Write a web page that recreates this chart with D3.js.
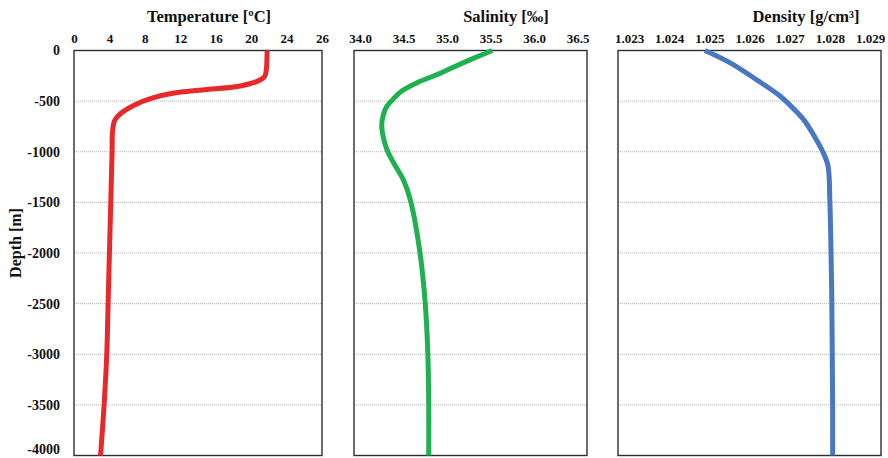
<!DOCTYPE html>
<html>
<head>
<meta charset="utf-8">
<script src="https://cdn.jsdelivr.net/npm/d3@7"></script>
<style>
  body { margin: 0; background: #fff; }
  text { font-family: "Liberation Serif", "Times New Roman", serif; font-weight: bold; fill: #111; }
</style>
</head>
<body>
<svg id="canvas"></svg>
<script>
// depth ticks shared by all three panels
const depthTicks = [0, -500, -1000, -1500, -2000, -2500, -3000, -3500, -4000];

// Temperature profile
const tempDepth  = [0, -200, -260, -300, -350, -385, -420, -470, -535, -620, -690, -800, -1000, -1500, -2000, -2500, -3000, -3500, -4000];
const tempValues = [21.8, 21.7, 21.5, 20.8, 18.8, 15.0, 11.3, 8.8, 6.9, 5.3, 4.6, 4.35, 4.3, 4.15, 4.0, 3.85, 3.7, 3.4, 3.0];
const tempTicks = [0, 4, 8, 12, 16, 20, 24, 28];
const tempTickLabels = ["0", "4", "8", "12", "16", "20", "24", "26"]; // last label reads 26 on the original

// Salinity profile
const salDepth  = [0, -75, -150, -240, -320, -400, -490, -550, -630, -750, -980, -1130, -1280, -1480, -2000, -2500, -3000, -3500, -4000];
const salValues = [35.52, 35.31, 35.11, 34.88, 34.65, 34.48, 34.37, 34.31, 34.27, 34.25, 34.31, 34.4, 34.5, 34.58, 34.69, 34.75, 34.78, 34.79, 34.79];
const salTicks = [34.0, 34.5, 35.0, 35.5, 36.0, 36.5];
const salTickLabels = ["34.0", "34.5", "35.0", "35.5", "36.0", "36.5"];

// Density profile
const denDepth  = [0, -120, -290, -450, -585, -700, -850, -980, -1130, -1480, -2000, -2500, -3000, -3500, -4000];
const denValues = [1.02489, 1.02551, 1.02618, 1.02676, 1.02712, 1.02738, 1.02762, 1.0278, 1.02795, 1.0280, 1.02803, 1.02805, 1.02806, 1.02807, 1.02807];
const denTicks = [1.023, 1.024, 1.025, 1.026, 1.027, 1.028, 1.029];
const denTickLabels = ["1.023", "1.024", "1.025", "1.026", "1.027", "1.028", "1.029"];

const svg = d3.select("#canvas");
const width = 888;
const height = 458;
svg.attr("width", width).attr("height", height);

const yScale = d3.scaleLinear()
    .domain([0, -4000])
    .range([50.5, 455.5]);

// each panel: its data, the tick scale range and the frame box around it
const panels = [
    { title: "Temperature [ºC]", titleX: 209, depth: tempDepth, values: tempValues,
      ticks: tempTicks, labels: tempTickLabels, domain: [0, 28], range: [74, 322], frame: [74, 322], color: "#e8282b" },
    { title: "Salinity [‰]", titleX: 506, depth: salDepth, values: salValues,
      ticks: salTicks, labels: salTickLabels, domain: [34.0, 36.5], range: [360, 577.5], frame: [354, 587], color: "#1fb04f" },
    { title: "Density [g/cm³]", titleX: 806, depth: denDepth, values: denValues,
      ticks: denTicks, labels: denTickLabels, domain: [1.023, 1.029], range: [629, 870], frame: [618, 881], color: "#4a77c1" }
];

panels.forEach(p => {
    const x = d3.scaleLinear().domain(p.domain).range(p.range);
    const g = svg.append("g");

    // dotted gridlines inside the frame
    g.selectAll(".grid")
        .data(depthTicks.slice(1, -1))
        .join("line")
        .attr("x1", p.frame[0])
        .attr("x2", p.frame[1])
        .attr("y1", d => yScale(d))
        .attr("y2", d => yScale(d))
        .attr("stroke", "#9a9a9a")
        .attr("stroke-width", 0.8)
        .attr("stroke-dasharray", "1 1");

    // frame
    g.append("rect")
        .attr("x", p.frame[0])
        .attr("y", yScale(0))
        .attr("width", p.frame[1] - p.frame[0])
        .attr("height", yScale(-4000) - yScale(0))
        .attr("fill", "none")
        .attr("stroke", "#2b2f3a")
        .attr("stroke-width", 1.4);

    // top axis labels
    const axis = d3.axisTop(x)
        .tickValues(p.ticks)
        .tickFormat((d, i) => p.labels[i])
        .tickSize(0)
        .tickPadding(7.5);
    const ax = g.append("g")
        .attr("transform", `translate(0,${yScale(0)})`)
        .call(axis);
    ax.select(".domain").remove();
    ax.selectAll("text")
        .attr("font-family", "Liberation Serif, Times New Roman, serif")
        .attr("font-weight", "bold")
        .attr("font-size", 13)
        .attr("fill", "#111");

    // profile line (centripetal catmull-rom keeps the bends smooth without loops)
    const line = d3.line()
        .x((d, i) => x(p.values[i]))
        .y(d => yScale(d))
        .curve(d3.curveCatmullRom.alpha(0.5));
    g.append("path")
        .attr("d", line(p.depth))
        .attr("fill", "none")
        .attr("stroke", p.color)
        .attr("stroke-width", 5)
        .attr("stroke-linecap", "butt");

    // panel title
    g.append("text")
        .attr("x", p.titleX)
        .attr("y", 21.5)
        .attr("text-anchor", "middle")
        .attr("font-size", 16.5)
        .text(p.title);
});

// depth axis on the left, plain hyphen minus like the original
const yAxis = d3.axisLeft(yScale)
    .tickValues(depthTicks)
    .tickFormat(d => String(d))
    .tickSize(0)
    .tickPadding(14);
const yAx = svg.append("g")
    .attr("transform", "translate(74,0)")
    .call(yAxis);
yAx.select(".domain").remove();
yAx.selectAll("text")
    .attr("font-family", "Liberation Serif, Times New Roman, serif")
    .attr("font-weight", "bold")
    .attr("font-size", 14)
    .attr("fill", "#111");
// the bottom label sits a little higher so it stays inside the picture
yAx.selectAll("text").filter(d => d === -4000).attr("dy", "-0.12em");

svg.append("text")
    .attr("transform", "translate(21,243) rotate(-90)")
    .attr("text-anchor", "middle")
    .attr("font-size", 16)
    .text("Depth [m]");
</script>
</body>
</html>
